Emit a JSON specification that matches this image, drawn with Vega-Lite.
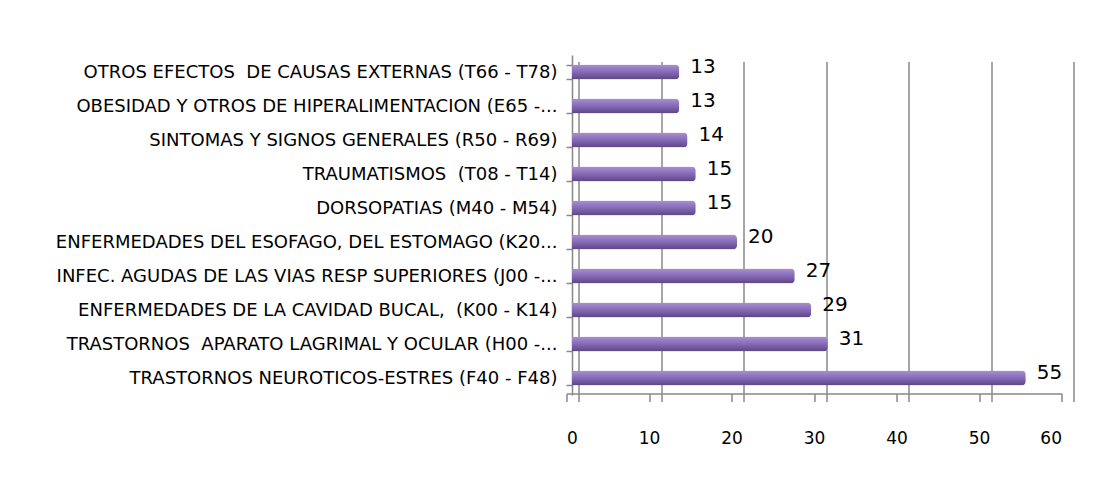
{
  "$schema": "https://vega.github.io/schema/vega-lite/v6.json",
  "autosize": {"type": "none"},
  "padding": {"left": 572, "top": 55, "right": 48, "bottom": 82},
  "width": 495,
  "height": 340,
  "background": "white",
  "config": {
    "view": {"stroke": null},
    "font": "DejaVu Sans"
  },
  "data": {
    "values": [
      {"cause": "OTROS EFECTOS \u00a0DE CAUSAS EXTERNAS (T66 - T78)", "n": 13},
      {"cause": "OBESIDAD Y OTROS DE HIPERALIMENTACION (E65 -...", "n": 13},
      {"cause": "SINTOMAS Y SIGNOS GENERALES (R50 - R69)", "n": 14},
      {"cause": "TRAUMATISMOS \u00a0(T08 - T14)", "n": 15},
      {"cause": "DORSOPATIAS (M40 - M54)", "n": 15},
      {"cause": "ENFERMEDADES DEL ESOFAGO, DEL ESTOMAGO (K20...", "n": 20},
      {"cause": "INFEC. AGUDAS DE LAS VIAS RESP SUPERIORES (J00 -...", "n": 27},
      {"cause": "ENFERMEDADES DE LA CAVIDAD BUCAL, \u00a0(K00 - K14)", "n": 29},
      {"cause": "TRASTORNOS \u00a0APARATO LAGRIMAL Y OCULAR (H00 -...", "n": 31},
      {"cause": "TRASTORNOS NEUROTICOS-ESTRES (F40 - F48)", "n": 55}
    ]
  },
  "encoding": {
    "y": {
      "field": "cause",
      "type": "nominal",
      "sort": null,
      "scale": {"paddingInner": 0.56, "paddingOuter": 0.28},
      "axis": {
        "title": null,
        "domain": true,
        "domainColor": "#888888",
        "domainWidth": 1.5,
        "ticks": true,
        "tickBand": "extent",
        "tickColor": "#888888",
        "tickWidth": 1.5,
        "tickSize": 6,
        "labelPadding": 9,
        "labelFont": "DejaVu Sans",
        "labelFontSize": 18,
        "labelColor": "#000000",
        "labelLimit": 600,
        "grid": false
      }
    }
  },
  "layer": [
    {
      "mark": {
        "type": "bar",
        "cornerRadiusEnd": 4,
        "color": {
          "gradient": "linear",
          "x1": 0, "y1": 0, "x2": 0, "y2": 1,
          "stops": [
            {"offset": 0, "color": "#a892cf"},
            {"offset": 0.45, "color": "#8a6dbb"},
            {"offset": 1, "color": "#5b4683"}
          ]
        }
      },
      "encoding": {
        "x": {
          "field": "n",
          "type": "quantitative",
          "scale": {"domain": [0, 60], "nice": false, "zero": true},
          "axis": {
            "title": null,
            "orient": "bottom",
            "values": [0, 10, 20, 30, 40, 50, 60],
            "grid": false,
            "offset": 4,
            "translate": -5,
            "domainColor": "#888888",
            "domainWidth": 1.5,
            "tickColor": "#888888",
            "tickWidth": 1.5,
            "tickSize": 8,
            "labelPadding": 29,
            "labelFont": "DejaVu Sans",
            "labelFontSize": 17,
            "labelColor": "#000000"
          }
        }
      }
    },
    {
      "mark": {"type": "text", "align": "left", "baseline": "middle", "dx": 11, "dy": -5, "fontSize": 20, "font": "DejaVu Sans", "color": "#000000"},
      "encoding": {
        "x": {
          "field": "n",
          "type": "quantitative",
          "axis": {
            "title": null,
            "orient": "bottom",
            "values": [0, 10, 20, 30, 40, 50, 60],
            "grid": true,
            "gridColor": "#888888",
            "gridWidth": 1.5,
            "labels": false,
            "ticks": false,
            "domain": false,
            "translate": 7
          }
        },
        "text": {"field": "n", "type": "quantitative"}
      }
    }
  ],
  "resolve": {"axis": {"x": "independent"}}
}
